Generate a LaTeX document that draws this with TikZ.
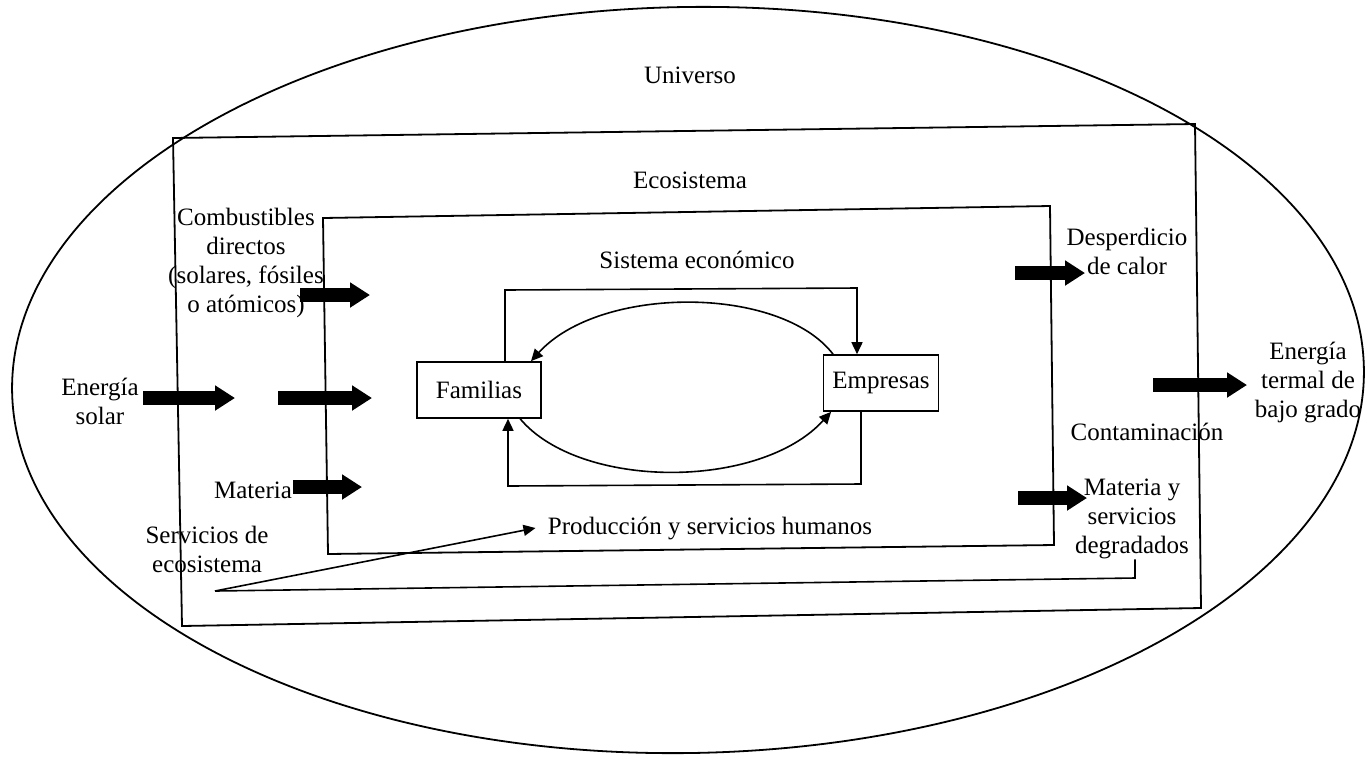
\documentclass[tikz,border=0pt]{standalone}
\usepackage{fontspec}
\setmainfont{Liberation Serif}
\usetikzlibrary{arrows.meta}
\begin{document}
\begin{tikzpicture}[x=0.5pt,y=-0.5pt,
  lbl/.style={font=\fontsize{12.5}{14.5}\selectfont, inner sep=0pt, align=center},
  agent/.style={draw, line width=0.8pt, font=\fontsize{12.5}{14.5}\selectfont,
                minimum height=28pt, inner sep=0pt},
  frame/.style={line width=0.9pt},
  thinline/.style={line width=0.8pt},
  flow/.style={line width=0.8pt, -{Triangle[length=6pt,width=5.5pt]}},
  bigarrow/.style={line width=7pt, -{Triangle[length=10pt,width=12pt]}}]
\useasboundingbox (0,0) rectangle (1366,757);

% Universe
\draw[frame, rotate around={1:(688,380)}] (688,380) ellipse [x radius=676, y radius=373];
\node[lbl] (univ) at (690,75) {Universo};

% Ecosystem and economic system boundaries
\draw[frame] (173,138) -- (1195,124) -- (1201,608) -- (182,626) -- cycle;
\node[lbl] (eco) at (690,180) {Ecosistema};
\draw[frame] (323,218) -- (1050,206) -- (1054,545) -- (328,554) -- cycle;
\node[lbl] (sis) at (697,260) {Sistema económico};

% Households and firms
\node[agent, minimum width=62pt] (fam) at (479,390) {Familias};
\node[agent, minimum width=57.5pt] (emp) at (881,383) {Empresas};

% Circular flow
\coordinate (lt) at (505,290);
\coordinate (rt) at (857,288);
\coordinate (rb) at (861,484);
\coordinate (lb) at (508,486);
\draw[flow] (fam.north -| lt) -- (lt) -- (rt) -- (emp.north -| rt);
\draw[flow] (emp.south -| rb) -- (rb) -- (lb) -- (fam.south -| lb);
\draw[flow] (emp.149) .. controls (780,285) and (600,285) .. (fam.29);
\draw[flow] (fam.-35) .. controls (580,490) and (760,490) .. (emp.210);

% Inputs
\node[lbl] (comb) at (246,263) {Combustibles\\directos\\(solares, fósiles\\o atómicos)};
\node[lbl] (sol) at (100,401) {Energía\\solar};
\node[lbl] (mat) at (253,490) {Materia};
\node[lbl] (serv) at (207,549) {Servicios de\\ecosistema};

\coordinate (a1s) at (300,295); \coordinate (a1e) at (370,295);
\coordinate (a2s) at (143,398); \coordinate (a2e) at (235,398);
\coordinate (a3s) at (278,398); \coordinate (a3e) at (372,398);
\coordinate (a4s) at (293,487); \coordinate (a4e) at (362,487);
\draw[bigarrow] (a1s) -- (a1e);
\draw[bigarrow] (a2s) -- (a2e);
\draw[bigarrow] (a3s) -- (a3e);
\draw[bigarrow] (a4s) -- (a4e);

% Outputs
\node[lbl] (desp) at (1127,251) {Desperdicio\\de calor};
\node[lbl] (term) at (1308,382) {Energía\\termal de\\bajo grado};
\node[lbl] (cont) at (1147,432) {Contaminación};
\node[lbl] (deg) at (1132,519) {Materia y\\servicios\\degradados};

\coordinate (b1s) at (1015,273); \coordinate (b1e) at (1085,273);
\coordinate (b2s) at (1153,385); \coordinate (b2e) at (1247,385);
\coordinate (b3s) at (1018,498); \coordinate (b3e) at (1087,498);
\draw[bigarrow] (b1s) -- (b1e);
\draw[bigarrow] (b2s) -- (b2e);
\draw[bigarrow] (b3s) -- (b3e);

% Ecosystem services and degraded return flow
\node[lbl] (prod) at (710,528) {Producción y servicios humanos};
\coordinate (sv) at (215,591);
\coordinate (lr) at (1135,578);
\draw[flow] (sv) -- ([xshift=-6pt]prod.west);
\draw[thinline] (sv) -- (lr) -- (lr |- deg.south);
\end{tikzpicture}
\end{document}
